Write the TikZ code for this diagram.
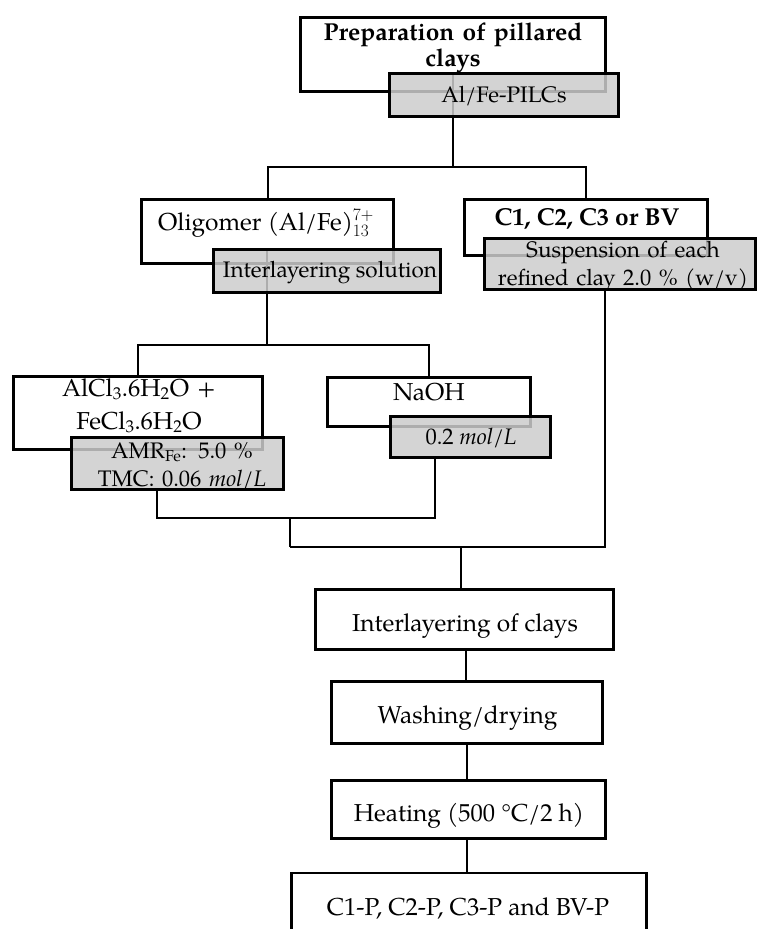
\documentclass[tikz,border=0pt]{standalone}
\usepackage{fontspec}
\setmainfont{TeX Gyre Pagella}
\begin{document}
\begin{tikzpicture}[x=1pt,y=-1pt,
  wbox/.style={draw=black, line width=2.6pt, fill=white, inner sep=0pt},
  gbox/.style={draw=black, line width=2.6pt, fill=black!20, fill opacity=0.85, draw opacity=1, inner sep=0pt},
  conn/.style={line width=2pt},
  thinconn/.style={line width=1.2pt},
  wtxt/.style={inner sep=0pt, anchor=base, align=center, font=\fontsize{24.5}{28}\selectfont},
  gtxt/.style={inner sep=0pt, anchor=base, align=center, font=\fontsize{22.5}{28}\selectfont},
]
\useasboundingbox (0,0) rectangle (758,929);
\clip (0,0) rectangle (758,929);

% white boxes
\node[wbox, minimum width=305pt, minimum height=74pt] (top) at (453,54.5) {};
\node[wbox, minimum width=252pt, minimum height=64pt] (olig) at (267.5,231.5) {};
\node[wbox, minimum width=243pt, minimum height=56pt] (clay) at (586,227.5) {};
\node[wbox, minimum width=249pt, minimum height=73pt] (alcl) at (138,413) {};
\node[wbox, minimum width=203pt, minimum height=49pt] (naoh) at (429,402) {};
\node[wbox, minimum width=298pt, minimum height=60pt] (inter) at (464.5,619.5) {};
\node[wbox, minimum width=271pt, minimum height=62pt] (wash) at (467,712.5) {};
\node[wbox, minimum width=274pt, minimum height=58pt] (heat) at (468.5,809.5) {};
\node[wbox, minimum width=355pt, minimum height=94pt] (final) at (469,920) {};

% junction points
\coordinate (j1) at (453,167);
\coordinate (j2) at (267,345);
\coordinate (j3) at (290,518);
\coordinate (j4) at (290,547);
\coordinate (j5) at (461,547);
\coordinate (jr) at (605,547);
\coordinate (ja) at (157,518);
\coordinate (jb) at (435,518);

% connectors (under the grey boxes)
\draw[conn] (453,72) -- (j1);
\draw[conn] (olig.north) |- (j1) -| (clay.north);
\draw[conn] (267,248) -- (j2);
\draw[conn] (alcl.north) |- (j2) -| (naoh.north);
\draw[conn] (ja |- 491,491) -- (ja) -- (jb) -- (435,459);
\draw[conn] (j3) -- (j4);
\draw[thinconn] (j4) -- (jr) -- (605,291);
\draw[conn] (j5) -- (inter.north -| j5);
\draw[conn] (inter.south -| 466,0) -- (wash.north -| 466,0);
\draw[conn] (wash.south -| 467,0) -- (heat.north -| 467,0);
\draw[conn] (heat.south -| 467,0) -- (final.north -| 467,0);

% grey boxes
\node[gbox, minimum width=229pt, minimum height=43pt] (topG) at (504,95) {};
\node[gbox, minimum width=227pt, minimum height=43pt] (oligG) at (327,271) {};
\node[gbox, minimum width=271pt, minimum height=51pt] (clayG) at (620,264) {};
\node[gbox, minimum width=212pt, minimum height=52pt] (alclG) at (177.5,463.5) {};
\node[gbox, minimum width=160pt, minimum height=41pt] (naohG) at (470.5,437) {};

% texts
\node[wtxt, text width=300pt, font=\fontsize{24.5}{26.5}\selectfont\bfseries] (topT) at (453,40) {Preparation of pillared\\clays};
\node[gtxt] (topGT) at (504,102) {Al/Fe-PILCs};
\node[wtxt] (oligT) at (266,230) {Oligomer (Al/Fe)$^{7+}_{13}$};
\node[gtxt] (oligGT) at (330,277) {Interlayering solution};
\node[wtxt, font=\fontsize{24.5}{28}\selectfont\bfseries] (clayT) at (587,225) {C1, C2, C3 or BV};
\node[gtxt, text width=270pt] (clayGT) at (623,257) {Suspension of each\\refined clay 2.0 \% (w/v)};
\node[wtxt, text width=250pt, font=\fontsize{24.5}{33}\selectfont] (alclT) at (139,396) {AlCl\textsubscript{3}.6H\textsubscript{2}O +\\FeCl\textsubscript{3}.6H\textsubscript{2}O};
\node[gtxt, text width=212pt] (alclGT) at (182,458) {AMR\textsubscript{Fe}: 5.0 \%\\TMC: 0.06 \textit{mol/L}};
\node[wtxt] (naohT) at (429,400) {NaOH};
\node[gtxt] (naohGT) at (471,444) {0.2 \textit{mol/L}};
\node[wtxt] (interT) at (465,631) {Interlayering of clays};
\node[wtxt] (washT) at (467.5,723) {Washing/drying};
\node[wtxt] (heatT) at (469,821) {Heating (500 °C/2 h)};
\node[wtxt] (finalT) at (468,915) {C1-P, C2-P, C3-P and BV-P};
\end{tikzpicture}
\end{document}
